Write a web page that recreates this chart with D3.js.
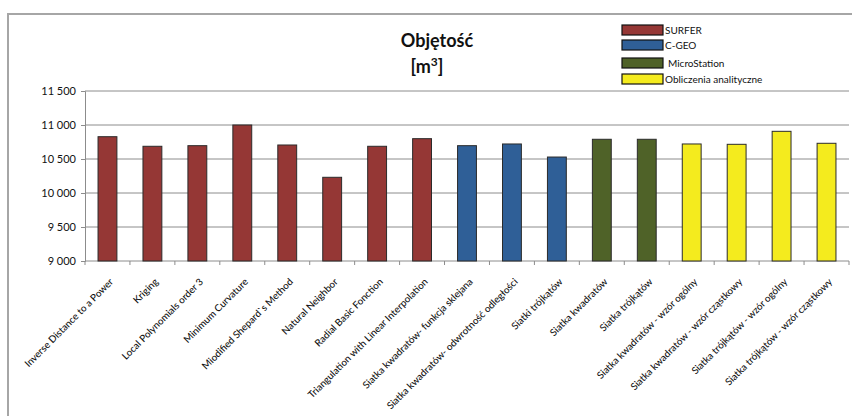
<!DOCTYPE html>
<html>
<head>
<meta charset="utf-8">
<script src="https://cdn.jsdelivr.net/npm/d3@7"></script>
<style>
  html, body { margin: 0; padding: 0; background: #fff; }
  svg { display: block; }
  text { font-family: Lato, "Open Sans", sans-serif; fill: #111; }
</style>
</head>
<body>
<svg id="chart" width="852" height="416"></svg>
<script>
// Interpolation methods compared (volume in m³)
const categories = [
  "Inverse Distance to a Power",
  "Kriging",
  "Local Polynomials order 3",
  "Minimum Curvature",
  "Miodified Shepard`s Method",
  "Natural Neighbor",
  "Radial Basic Fonction",
  "Triangulation with Linear Interpolation",
  "Siatka kwadratów- funkcja sklejana",
  "Siatka kwadratów- odwrotność odległości",
  "Siatki trójkątów",
  "Siatka kwadratów",
  "Siatka trójkątów",
  "Siatka kwadratów - wzór ogólny",
  "Siatka kwadratów - wzór cząstkowy",
  "Siatka trójkątów - wzór ogólny",
  "Siatka trójkątów - wzór cząstkowy"
];
const volumes = [10828, 10687, 10696, 11000, 10706, 10231, 10687, 10799,
                 10696, 10721, 10529, 10790, 10790, 10721, 10716, 10907, 10731];
const groups = ["SURFER", "SURFER", "SURFER", "SURFER", "SURFER", "SURFER", "SURFER", "SURFER",
                "C-GEO", "C-GEO", "C-GEO",
                "MicroStation", "MicroStation",
                "Obliczenia analityczne", "Obliczenia analityczne", "Obliczenia analityczne", "Obliczenia analityczne"];
const legendNames = ["SURFER", "C-GEO", "MicroStation", "Obliczenia analityczne"];
const legendColors = ["#953735", "#2f5f97", "#4f6228", "#f4eb1e"];
const yTicks = [9000, 9500, 10000, 10500, 11000, 11500];

const svg = d3.select("#chart");
const color = d3.scaleOrdinal().domain(legendNames).range(legendColors);
const fmt = d3.formatLocale({ decimal: ",", thousands: " ", grouping: [3], currency: ["", ""] }).format(",d");

const plotL = 85, plotR = 849, plotT = 91, plotB = 261;
const x = d3.scaleBand().domain(categories).range([plotL, plotR]).paddingInner(0.58).paddingOuter(0.29);
const y = d3.scaleLinear().domain([9000, 11500]).range([plotB, plotT]);
const slot = (plotR - plotL) / categories.length;

// chart frame (top and left edges)
svg.append("path").attr("d", "M8,416V14H852").attr("fill", "none")
  .attr("stroke", "#a6a6a6").attr("stroke-width", 2);

// horizontal gridlines
svg.append("g").selectAll("line").data(yTicks.slice(1)).join("line")
  .attr("x1", plotL).attr("x2", plotR)
  .attr("y1", d => y(d)).attr("y2", d => y(d))
  .attr("stroke", "#8c8c8c").attr("stroke-width", 1);

// y axis
const yAxis = svg.append("g").attr("transform", `translate(${plotL},0)`)
  .call(d3.axisLeft(y).tickValues(yTicks).tickFormat(fmt).tickSize(4).tickPadding(5));
yAxis.select(".domain").attr("stroke", "#8c8c8c");
yAxis.selectAll(".tick line").attr("stroke", "#8c8c8c");
yAxis.selectAll("text").attr("font-size", 11).attr("font-family", "Lato, sans-serif").attr("fill", "#111");

// x axis: baseline plus boundary ticks between categories
svg.append("line").attr("x1", plotL).attr("x2", plotR).attr("y1", plotB).attr("y2", plotB)
  .attr("stroke", "#8c8c8c");
svg.append("g").selectAll("line").data(d3.range(categories.length + 1)).join("line")
  .attr("x1", i => plotL + i * slot)
  .attr("x2", i => plotL + i * slot)
  .attr("y1", plotB).attr("y2", plotB + 4)
  .attr("stroke", "#8c8c8c");

// bars
svg.append("g").selectAll("rect").data(categories).join("rect")
  .attr("x", d => x(d))
  .attr("width", x.bandwidth())
  .attr("y", (d, i) => y(volumes[i]))
  .attr("height", (d, i) => y(9000) - y(volumes[i]))
  .attr("fill", (d, i) => color(groups[i]))
  .attr("stroke", "#2b2b2b").attr("stroke-width", 1);

// rotated category labels
svg.append("g").selectAll("text").data(categories).join("text")
  .attr("transform", d => `translate(${x(d) + x.bandwidth() / 2 + 4},${plotB + 19}) rotate(-45)`)
  .attr("text-anchor", "end")
  .attr("dy", "0.35em")
  .attr("font-size", 9.8)
  .attr("font-weight", 500)
  .text(d => d);

// title
svg.append("text").attr("x", 437).attr("y", 47).attr("text-anchor", "middle")
  .attr("font-size", 18).attr("font-weight", "bold").text("Objętość");
const unit = svg.append("text").attr("x", 427).attr("y", 73).attr("text-anchor", "middle")
  .attr("font-size", 18).attr("font-weight", "bold");
unit.append("tspan").text("[m");
unit.append("tspan").attr("font-size", 12).attr("dy", -7).text("3");
unit.append("tspan").attr("dy", 7).text("]");

// legend
const legendY = [25, 40, 58, 74];
const legendTx = [665, 665, 668, 665];
const lg = svg.append("g").selectAll("g").data(legendNames).join("g");
lg.append("rect").attr("x", 622).attr("y", (d, i) => legendY[i])
  .attr("width", 41).attr("height", 10)
  .attr("fill", d => color(d)).attr("stroke", "#111").attr("stroke-width", 1.2);
lg.append("text").attr("x", (d, i) => legendTx[i]).attr("y", (d, i) => legendY[i] + 5)
  .attr("dy", "0.35em").attr("font-size", 10).text(d => d);
</script>
</body>
</html>
